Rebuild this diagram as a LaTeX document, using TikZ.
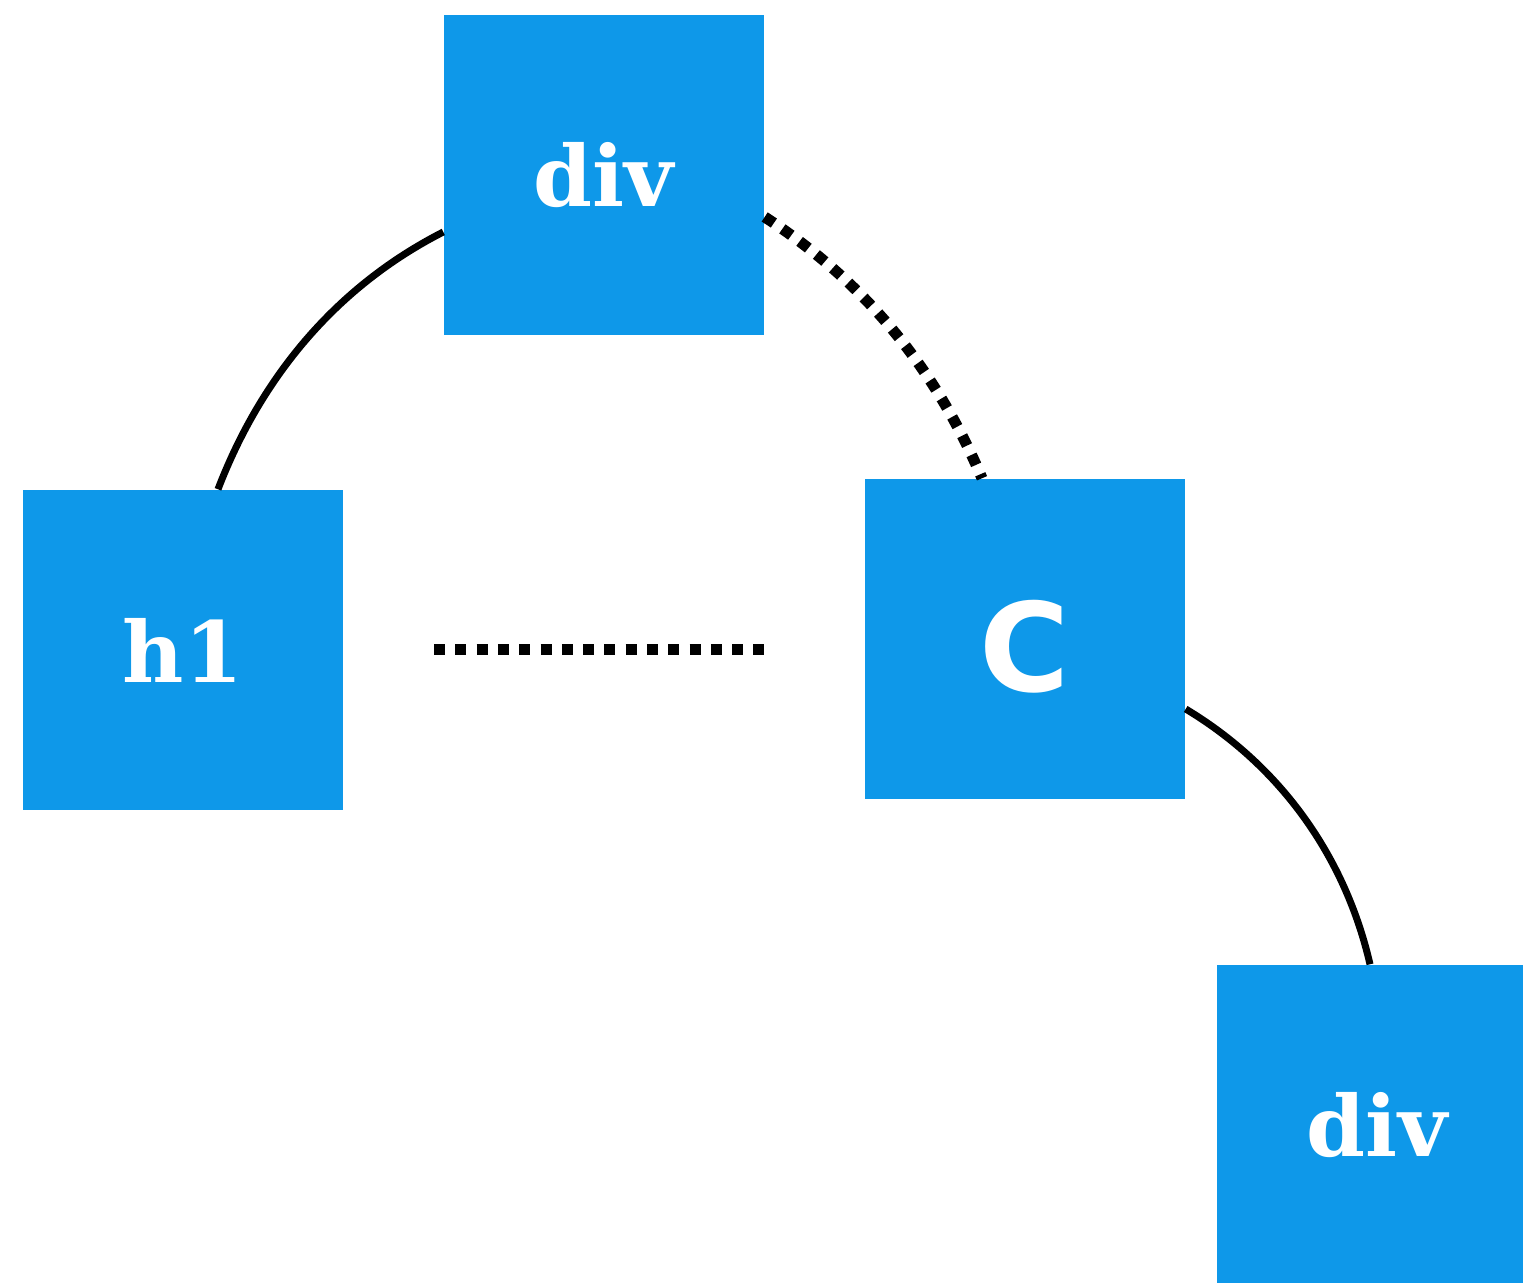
\documentclass[tikz,border=0pt]{standalone}
\usepackage{fontspec}
\setmainfont{DejaVu Serif}
\setsansfont{DejaVu Sans}
\definecolor{tagblue}{HTML}{0E98E9}
\tikzset{
  tagbox/.style={fill=tagblue, minimum width=3.2cm, minimum height=3.2cm,
    inner sep=0pt, text=white, font=\bfseries\fontsize{24}{24}\selectfont},
  taglabel/.style={inner sep=0pt, text=white},
  link/.style={line width=0.07cm, black},
  dotlink/.style={line width=0.11cm, black, dash pattern=on 0.11cm off 0.103cm},
}
\begin{document}
\begin{tikzpicture}[x=1cm,y=1cm]
  \useasboundingbox (0,0) rectangle (15.23,-12.83);
  \clip (0,0) rectangle (15.23,-12.83);

  % element boxes
  \node[tagbox] (top) at (6.04,-1.75) {div};
  \node[tagbox] (h1) at (1.83,-6.50) {h1};
  \node[tagbox] (comp) at (10.25,-6.39) {};
  \node[taglabel, font=\sffamily\bfseries\fontsize{35}{35}\selectfont]
    (compText) at ([yshift=-0.08cm]comp.center) {C};
  \node[tagbox] (bot) at (13.77,-11.25) {div};

  % free ends of the sibling line
  \coordinate (sibA) at (4.34,-6.50);
  \coordinate (sibB) at (7.64,-6.50);

  % connectors (near-circular arcs)
  \draw[link] ([yshift=-0.57cm]top.west) to[out=207, in=69, looseness=0.9] ([xshift=0.35cm]h1.north);
  \draw[dotlink] ([yshift=-0.42cm]top.east) to[out=-33, in=113, looseness=0.9] ([xshift=-0.43cm]comp.north);
  \draw[dotlink] (sibA) -- (sibB);
  \draw[link] ([yshift=-0.70cm]comp.east) to[out=-31, in=103, looseness=0.9] ([xshift=-0.07cm]bot.north);
\end{tikzpicture}
\end{document}
